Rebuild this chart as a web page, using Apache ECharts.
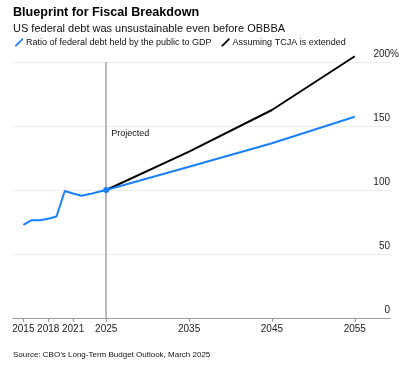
<!DOCTYPE html>
<html><head><meta charset="utf-8">
<script src="https://cdn.jsdelivr.net/npm/echarts@6/dist/echarts.min.js"></script>
<style>html,body{margin:0;padding:0;background:#fff}#c{width:409px;height:370px}</style>
</head><body><div id="c"></div>
<script>
const histYears = [2015,2016,2017,2018,2019,2020,2021,2022,2023,2024,2025];
const histValues = [72.7,76.4,76.3,77.6,79.3,99.2,97.3,95.5,96.8,98.4,100];
const projYears = [2025,2035,2045,2055];
const baseProj = [100,118.2,136.5,157.2];
const tcjaProj = [100,130,162.5,204.5];
const xTicks = [2015,2018,2021,2025,2035,2045,2055];
const yTicks = [0,50,100,150,200];
const names = ['Ratio of federal debt held by the public to GDP','Assuming TCJA is extended'];
const BLUE = '#1a7fff';
const FONT = 'Liberation Sans, Arial, sans-serif';
const slash = 'path://M0,10 L1.6,10 L10,1.6 L10,0 L8.4,0 L0,8.4 Z';

const blueData = histYears.map((y,i)=>[y,histValues[i]]).concat(projYears.slice(1).map((y,i)=>[y,baseProj[i+1]]));
const blackData = projYears.map((y,i)=>[y,tcjaProj[i]]);

const chart = echarts.init(document.getElementById('c'), null, {renderer:'canvas'});
chart.setOption({
  animation:false,
  textStyle:{fontFamily:FONT},
  title:[
    {text:'Blueprint for Fiscal Breakdown', left:8, top:1, textStyle:{fontSize:12.6, fontWeight:'bold', color:'#000', fontFamily:FONT},
     subtext:'US federal debt was unsustainable even before OBBBA', itemGap:4, subtextStyle:{fontSize:11, color:'#111', fontFamily:FONT}},
    {text:'Source: CBO\u2019s Long-Term Budget Outlook, March 2025', left:8, top:346, textStyle:{fontSize:8, fontWeight:'normal', color:'#111', fontFamily:FONT}}
  ],
  legend:{
    data:names, left:10, top:33, itemWidth:8, itemHeight:8, itemGap:10, icon:slash,
    textStyle:{fontSize:9, color:'#111', fontFamily:FONT, padding:[0,0,0,-2]}
  },
  grid:{left:13, right:19, top:62, bottom:52, containLabel:false},
  xAxis:{
    type:'value', min:2013.75, max:2059.25,
    axisLine:{show:true, lineStyle:{color:'#999', width:1}},
    axisTick:{show:true, customValues:xTicks, length:4, lineStyle:{color:'#999'}},
    axisLabel:{customValues:xTicks, fontSize:10, color:'#222', margin:6, formatter:v=>String(v)},
    splitLine:{show:false}
  },
  yAxis:{
    type:'value', min:0, max:200, interval:50, position:'right',
    axisLine:{show:false}, axisTick:{show:false},
    axisLabel:{inside:true, fontSize:10, color:'#222', verticalAlign:'bottom', margin:0, padding:[0,0,3,0],
      formatter:v=>v===200?'{a|200%}':String(v),
      rich:{a:{fontSize:10, color:'#222', padding:[0,-9,0,0]}}},
    splitLine:{show:true, lineStyle:{color:'#ececec', width:1}}
  },
  series:[
    {name:names[0], type:'line', data:blueData, showSymbol:false, symbol:'none',
     lineStyle:{color:BLUE, width:2}, itemStyle:{color:BLUE}, z:3,
     markLine:{silent:true, symbol:'none', label:{show:false},
       lineStyle:{color:'#a0a0a0', width:1.5, type:'solid'}, data:[{xAxis:2025}]},
     markPoint:{silent:true, data:[
       {coord:[2025,100], symbol:'circle', symbolSize:6, itemStyle:{color:BLUE}, label:{show:false}},
       {coord:[2025,144], symbol:'circle', symbolSize:0, label:{show:true, position:'right', distance:5, formatter:'Projected', color:'#111', fontSize:9, fontFamily:FONT}}
     ]}},
    {name:names[1], type:'line', data:blackData, showSymbol:false, symbol:'none',
     lineStyle:{color:'#000', width:2}, itemStyle:{color:'#000'}, z:2, clip:false}
  ]
});
</script></body></html>
